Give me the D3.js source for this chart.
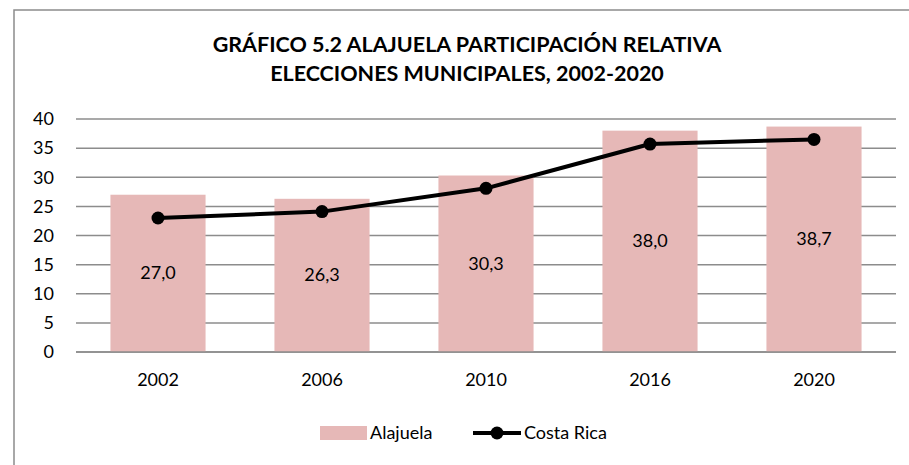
<!DOCTYPE html>
<html>
<head>
<meta charset="utf-8">
<script src="https://cdn.jsdelivr.net/npm/d3@7"></script>
<style>
  body { margin: 0; background: #fff; }
  svg { font-family: Lato, "Open Sans", sans-serif; }
</style>
</head>
<body>
<div id="chart"></div>
<script>
var years = ['2002', '2006', '2010', '2016', '2020'];
var alajuela = [27.0, 26.3, 30.3, 38.0, 38.7];
var costaRica = [23.0, 24.1, 28.1, 35.7, 36.5];
var yTicks = [0, 5, 10, 15, 20, 25, 30, 35, 40];
var titleLines = ['GRÁFICO 5.2 ALAJUELA PARTICIPACIÓN RELATIVA', 'ELECCIONES MUNICIPALES, 2002-2020'];

var width = 909,
    height = 465,
    plotLeft = 76,
    plotRight = 896,
    plotTop = 119,
    plotBottom = 352;

var svg = d3.select('#chart')
    .append('svg')
    .attr('width', width)
    .attr('height', height);

// chart frame (right/bottom edges fall outside the window)
svg.append('rect')
    .attr('x', 14)
    .attr('y', 10)
    .attr('width', 920)
    .attr('height', 480)
    .style('fill', '#fff')
    .style('stroke', '#8c8c8c')
    .style('stroke-width', 1.5);

// title
svg.selectAll('.title')
    .data(titleLines)
    .enter()
    .append('text')
    .attr('class', 'title')
    .attr('x', 467)
    .attr('y', (d, i) => 52 + i * 29)
    .attr('text-anchor', 'middle')
    .style('font-weight', 'bold')
    .style('font-size', '21.5px')
    .style('fill', '#000')
    .text(d => d);

var x = d3.scaleBand()
    .domain(years)
    .range([plotLeft, plotRight])
    .paddingInner(0.42)
    .paddingOuter(0.21);

var y = d3.scaleLinear()
    .domain([0, 40])
    .range([plotBottom, plotTop]);

// gridlines
svg.append('g')
    .selectAll('line')
    .data(yTicks)
    .enter()
    .append('line')
    .attr('x1', plotLeft)
    .attr('x2', plotRight)
    .attr('y1', d => y(d))
    .attr('y2', d => y(d))
    .style('stroke', '#8c8c8c')
    .style('stroke-width', 1.5);

// y labels
var yAxis = d3.axisLeft(y).tickValues(yTicks).tickSize(0).tickPadding(22);
svg.append('g')
    .attr('transform', 'translate(' + plotLeft + ',0)')
    .call(yAxis)
    .call(g => g.select('.domain').remove())
    .selectAll('text')
    .style('font-family', 'Lato, sans-serif')
    .style('font-size', '18px')
    .style('fill', '#000');

// bars
svg.append('g')
    .selectAll('rect')
    .data(alajuela)
    .enter()
    .append('rect')
    .attr('x', (d, i) => x(years[i]))
    .attr('y', d => y(d))
    .attr('width', x.bandwidth())
    .attr('height', d => plotBottom - y(d))
    .style('fill', '#e6b8b7');

// baseline over bars
svg.append('line')
    .attr('x1', plotLeft)
    .attr('x2', plotRight)
    .attr('y1', y(0))
    .attr('y2', y(0))
    .style('stroke', '#8c8c8c')
    .style('stroke-width', 1.5);

// bar labels
svg.append('g')
    .selectAll('text')
    .data(alajuela)
    .enter()
    .append('text')
    .attr('x', (d, i) => x(years[i]) + x.bandwidth() / 2)
    .attr('y', d => (y(d) + plotBottom) / 2 + 6)
    .attr('text-anchor', 'middle')
    .style('font-size', '18px')
    .style('fill', '#000')
    .text(d => d.toFixed(1).replace('.', ','));

// x labels
var xAxis = d3.axisBottom(x).tickSize(0).tickPadding(21);
svg.append('g')
    .attr('transform', 'translate(0,' + plotBottom + ')')
    .call(xAxis)
    .call(g => g.select('.domain').remove())
    .selectAll('text')
    .style('font-family', 'Lato, sans-serif')
    .style('font-size', '18px')
    .style('fill', '#000');

// Costa Rica line
var line = d3.line()
    .x((d, i) => x(years[i]) + x.bandwidth() / 2)
    .y(d => y(d));

svg.append('path')
    .datum(costaRica)
    .attr('d', line)
    .style('fill', 'none')
    .style('stroke', '#000')
    .style('stroke-width', 4)
    .style('stroke-linejoin', 'round');

svg.append('g')
    .selectAll('circle')
    .data(costaRica)
    .enter()
    .append('circle')
    .attr('cx', (d, i) => x(years[i]) + x.bandwidth() / 2)
    .attr('cy', d => y(d))
    .attr('r', 6.5)
    .style('fill', '#000');

// legend
var legend = svg.append('g').attr('transform', 'translate(0,433)');
legend.append('rect')
    .attr('x', 320)
    .attr('y', -7)
    .attr('width', 47)
    .attr('height', 14)
    .style('fill', '#e6b8b7');
legend.append('text')
    .attr('x', 370)
    .attr('y', 6)
    .style('font-size', '18px')
    .text('Alajuela');
legend.append('line')
    .attr('x1', 473)
    .attr('x2', 521)
    .attr('y1', 0)
    .attr('y2', 0)
    .style('stroke', '#000')
    .style('stroke-width', 4);
legend.append('circle')
    .attr('cx', 497)
    .attr('cy', 0)
    .attr('r', 6.5)
    .style('fill', '#000');
legend.append('text')
    .attr('x', 524)
    .attr('y', 6)
    .style('font-size', '18px')
    .text('Costa Rica');
</script>
</body>
</html>
